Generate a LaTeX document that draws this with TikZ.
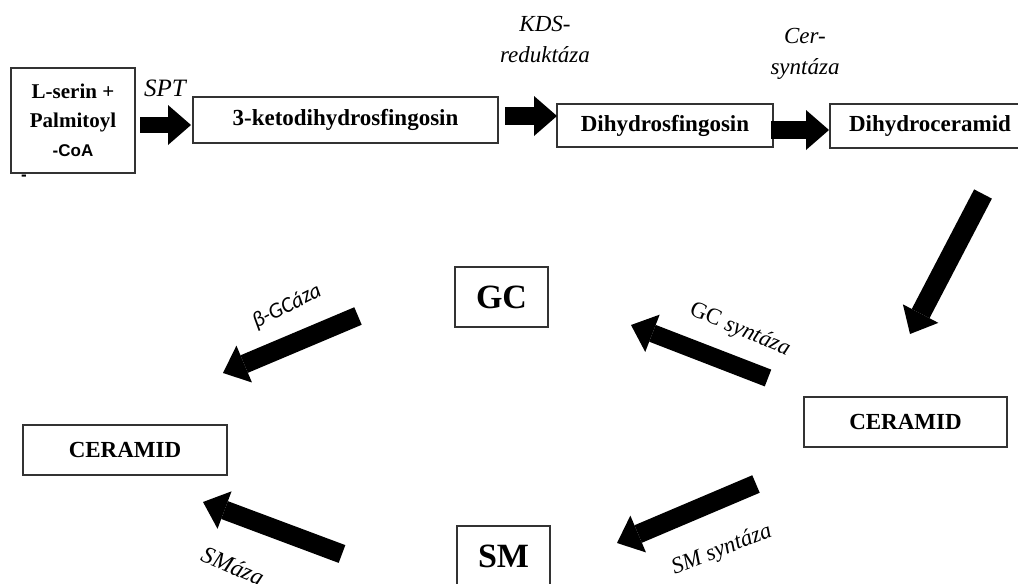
\documentclass[tikz,border=0pt]{standalone}
\usepackage{fontspec}
\setmainfont{Liberation Serif}
\newfontfamily\sansfnt{Liberation Sans}
\newfontfamily\calfnt{Carlito}
\usetikzlibrary{arrows.meta}

\begin{document}
\begin{tikzpicture}[
        x=1pt, y=-1pt,
        stage box/.style={
            draw=black!80,
            line width=1.3pt,
            inner sep=0pt,
            align=center,
            font=\bfseries\fontsize{23}{28}\selectfont
        },
        big box/.style={
            stage box,
            minimum width=93pt,
            minimum height=60pt,
            font=\bfseries\fontsize{34}{40}\selectfont
        },
        enzyme/.style={
            inner sep=0pt,
            align=center,
            font=\itshape\fontsize{23}{31}\selectfont
        },
        block arrow/.style={
            line width=18pt,
            -{Triangle[length=23pt,width=40pt,line width=0pt]}
        }
    ]
        \useasboundingbox (0,0) rectangle (1018,584);
        \clip (0,0) rectangle (1018,584);

        \node[stage box, minimum width=124pt, minimum height=105pt,
              font=\bfseries\fontsize{21}{29}\selectfont] (lserin) at (73,120.5)
            {L-serin +\\Palmitoyl\\{\sansfnt\fontsize{17}{29}\selectfont -CoA}};
        \node[font=\sansfnt\bfseries\fontsize{17}{20}\selectfont, inner sep=0pt] (dash) at (24,178) {-};
        \node[stage box, minimum width=305pt, minimum height=46pt] (keto) at (345.5,120)
            {3-ketodihydrosfingosin};
        \node[stage box, minimum width=216pt, minimum height=43pt] (dhs) at (665,125.5)
            {Dihydrosfingosin};
        \node[stage box, minimum width=200pt, minimum height=44pt] (dhc) at (930,126)
            {Dihydroceramid};
        \node[stage box, minimum width=203pt, minimum height=50pt] (ceramidR) at (905.5,422)
            {CERAMID};
        \node[stage box, minimum width=204pt, minimum height=50pt] (ceramidL) at (125,450)
            {CERAMID};
        \node[big box] (gc) at (501.5,297) {GC};
        \node[big box] (sm) at (503.5,556) {SM};

        \node[enzyme, font=\itshape\fontsize{25}{30}\selectfont] (spt) at (165,88) {SPT};
        \node[enzyme] (kds) at (545,40) {KDS-\\reduktáza};
        \node[enzyme] (cer) at (805,54) {Cer-\\syntáza};
        \node[enzyme, rotate=-22.7] (gcsyn) at (740,330) {{\upshape GC} syntáza};
        \node[enzyme, font=\calfnt\itshape\fontsize{22}{26}\selectfont, rotate=27] (bgc) at (287,307) {β-GCáza};
        \node[enzyme, font=\itshape\fontsize{24}{28}\selectfont, rotate=-23] (smaza) at (233,566) {SMáza};
        \node[enzyme, rotate=21.5] (smsyn) at (722,550) {SM syntáza};

        \coordinate (sptA) at (140,125);
        \coordinate (sptB) at (191,125);
        \coordinate (kdsA) at (505,116);
        \coordinate (kdsB) at (557,116);
        \coordinate (cerA) at (771,130);
        \coordinate (cerB) at (829,130);
        \coordinate (dhcA) at (983,194);
        \coordinate (dhcB) at (910,334);
        \coordinate (gcsynA) at (768,378);
        \coordinate (gcsynB) at (631,325);
        \coordinate (bgcA) at (358,316);
        \coordinate (bgcB) at (223,373);
        \coordinate (smazaA) at (342,554);
        \coordinate (smazaB) at (203,502);
        \coordinate (smsynA) at (756,484);
        \coordinate (smsynB) at (617,543);

        \draw[block arrow, line width=16pt] (sptA) -- (sptB);
        \draw[block arrow] (kdsA) -- (kdsB);
        \draw[block arrow] (cerA) -- (cerB);
        \draw[block arrow, line width=20pt] (dhcA) -- (dhcB);
        \draw[block arrow] (gcsynA) -- (gcsynB);
        \draw[block arrow, line width=19pt] (bgcA) -- (bgcB);
        \draw[block arrow, line width=19pt] (smazaA) -- (smazaB);
        \draw[block arrow, line width=19pt] (smsynA) -- (smsynB);
    \end{tikzpicture}
\end{document}
